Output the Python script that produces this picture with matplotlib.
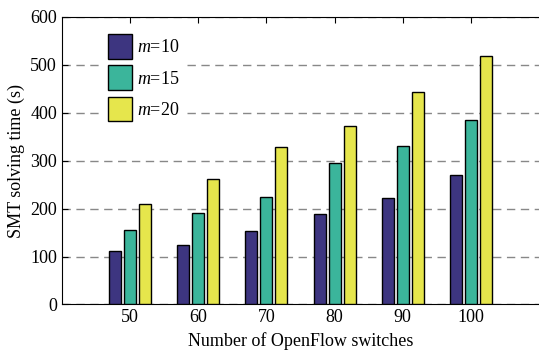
import numpy as np
import matplotlib as mpl
import matplotlib.pyplot as plt

switches = [50, 60, 70, 80, 90, 100]
m10 = [111, 125, 153, 188, 223, 271]
m15 = [155, 190, 224, 296, 331, 386]
m20 = [209, 262, 328, 372, 444, 518]
series_labels = ['$m$=10', '$m$=15', '$m$=20']
colors = ['#3d3580', '#3bb59b', '#e6e64c']

plt.rcParams['font.family'] = 'Liberation Serif'
plt.rcParams['mathtext.fontset'] = 'custom'
plt.rcParams['mathtext.rm'] = 'Liberation Serif'
plt.rcParams['mathtext.it'] = 'Liberation Serif:italic'

fig = plt.figure(figsize=(5.39, 3.54), dpi=100)
ax = fig.add_axes([0.115, 0.14, 0.885, 0.812])

x = np.array(switches, dtype=float)
width = 1.75
step = 2.2
for i, (vals, lab, c) in enumerate(zip([m10, m15, m20], series_labels, colors)):
    ax.bar(x + (i - 1) * step, vals, width, color=c, edgecolor='black',
           linewidth=1.0, label=lab, zorder=3)

ax.set_xlim(40, 110)
ax.set_ylim(0, 600)
ax.set_xticks(switches)
ax.set_yticks(range(0, 601, 100))
ax.yaxis.grid(True, linestyle=(0, (6, 4)), color='#888888', linewidth=1.0, zorder=0)
ax.set_axisbelow(True)
ax.tick_params(direction='in', top=True, labelsize=13, length=4)
ax.spines['right'].set_visible(False)

ax.set_xlabel('Number of OpenFlow switches', fontsize=13)
ax.set_ylabel('SMT solving time (s)', fontsize=13)

leg = ax.legend(loc='upper left', bbox_to_anchor=(0.07, 0.985), frameon=True,
                fontsize=13, handlelength=1.33, handleheight=1.75,
                handletextpad=0.3, labelspacing=0.35, borderpad=0.2)
leg.get_frame().set_edgecolor('white')
leg.get_frame().set_alpha(1.0)
leg.get_frame().set_boxstyle('square', pad=0.0)

fig.savefig('out.png', dpi=100)
